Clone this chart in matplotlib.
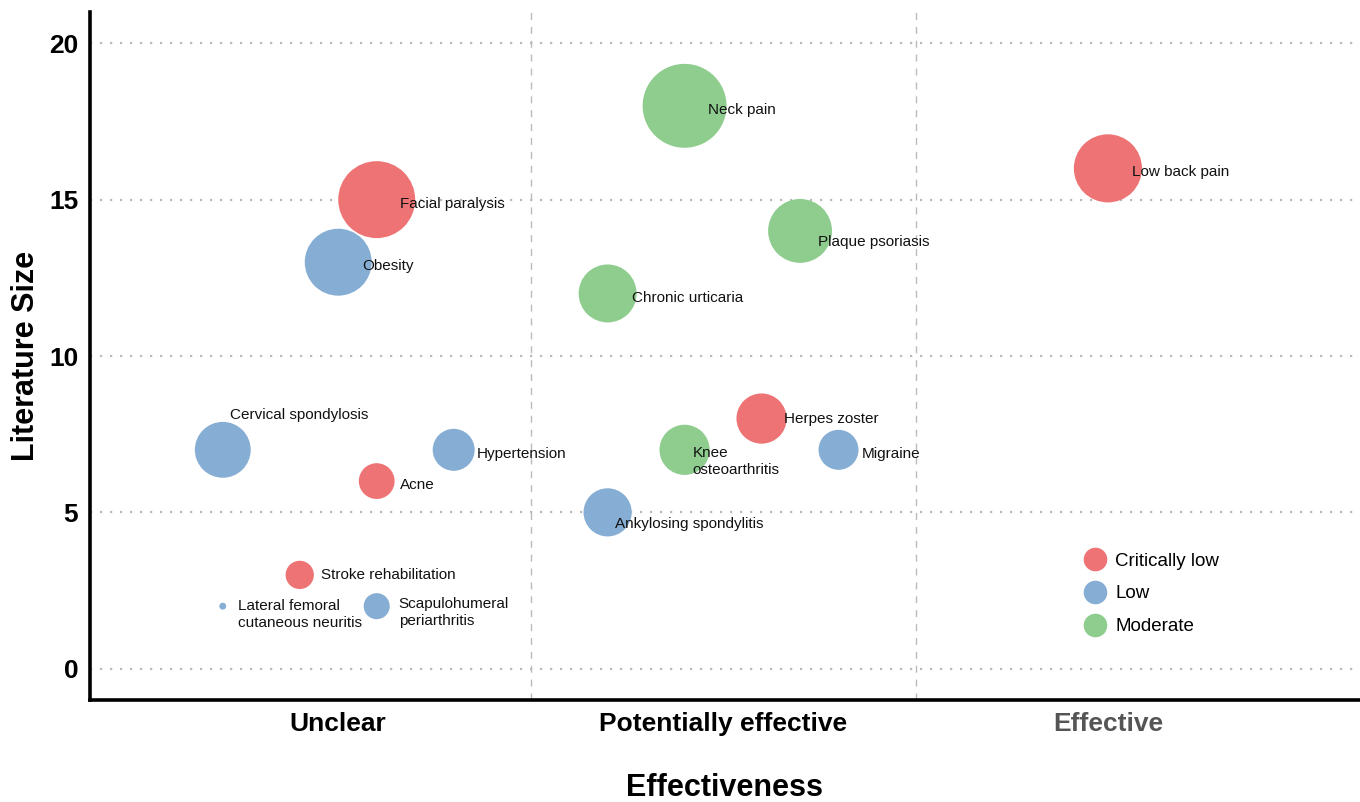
import matplotlib
matplotlib.use("Agg")
import matplotlib.pyplot as plt
from matplotlib.lines import Line2D

plt.rcParams['font.family'] = ['Liberation Sans', 'DejaVu Sans']

# x categories (positions 1, 2, 3)
categories = ["Unclear", "Potentially effective", "Effective"]

diseases = [
    "Facial paralysis", "Obesity", "Cervical spondylosis", "Hypertension",
    "Acne", "Stroke rehabilitation", "Lateral femoral\ncutaneous neuritis",
    "Scapulohumeral\nperiarthritis", "Neck pain", "Plaque psoriasis",
    "Chronic urticaria", "Herpes zoster", "Knee\nosteoarthritis", "Migraine",
    "Ankylosing spondylitis", "Low back pain",
]
effectiveness = [1.1, 1.0, 0.7, 1.3, 1.1, 0.9, 0.7, 1.1,
                 1.9, 2.2, 1.7, 2.1, 1.9, 2.3, 1.7, 3.0]
literature_size = [15, 13, 7, 7, 6, 3, 2, 2, 18, 14, 12, 8, 7, 7, 5, 16]
bubble_weight = [14.8, 11.2, 7.8, 4.4, 3.2, 2.0, 0.12, 1.7,
                 17.6, 10.2, 8.4, 6.3, 6.3, 4.0, 5.8, 11.6]
quality = ["Critically low", "Low", "Low", "Low", "Critically low",
           "Critically low", "Low", "Low", "Moderate", "Moderate", "Moderate",
           "Critically low", "Moderate", "Low", "Low", "Critically low"]

quality_levels = ["Critically low", "Low", "Moderate"]
quality_colors = {"Critically low": "#ee7374", "Low": "#86aed4", "Moderate": "#8fcd8f"}

# label offsets from bubble centre, in pixels
label_offsets = {
    "Facial paralysis": (23, -4),
    "Obesity": (24, -4),
    "Cervical spondylosis": (7, 35),
    "Hypertension": (23, -4),
    "Acne": (23, -4),
    "Stroke rehabilitation": (21, 0),
    "Lateral femoral\ncutaneous neuritis": (15, -8),
    "Scapulohumeral\nperiarthritis": (22, -6),
    "Neck pain": (23, -4),
    "Plaque psoriasis": (18, -11),
    "Chronic urticaria": (24, -5),
    "Herpes zoster": (22, 0),
    "Knee\nosteoarthritis": (8, -12),
    "Migraine": (23, -4),
    "Ankylosing spondylitis": (7, -12),
    "Low back pain": (24, -4),
}

fig = plt.figure(figsize=(13.6, 8.02), dpi=100)
ax = fig.add_axes([90 / 1360, 1 - 700 / 802, 1 - 90 / 1360, 688 / 802])

# grid
for yv in [0, 5, 10, 15, 20]:
    ax.axhline(yv, color="#bbbbbb", linestyle=(0, (1, 3.5)), linewidth=1.6, zorder=0)
for xv in [1.5, 2.5]:
    ax.axvline(xv, color="#bbbbbb", linestyle=(0, (5, 5)), linewidth=1.0, zorder=0)

size_scale = 207.36
colors = [quality_colors[q] for q in quality]
ax.scatter(effectiveness, literature_size, s=[w * size_scale for w in bubble_weight],
           c=colors, edgecolors="none", zorder=2)

for name, xv, yv in zip(diseases, effectiveness, literature_size):
    dx, dy = label_offsets[name]
    ax.annotate(name, (xv, yv), xytext=(dx, dy), textcoords="offset pixels",
                ha="left", va="center", fontsize=11, color="#111111",
                linespacing=1.3, zorder=3)

ax.set_xlim(0.355, 3.655)
ax.set_ylim(-1, 21)
ax.set_xticks([1, 2, 3])
ax.set_xticklabels(categories, fontsize=19, fontweight="bold")
ax.get_xticklabels()[2].set_color("#555555")
ax.set_yticks([0, 5, 10, 15, 20])
ax.set_yticklabels(["0", "5", "10", "15", "20"], fontsize=19, fontweight="bold")
ax.tick_params(length=0, pad=8.5)

ax.set_xlabel("Effectiveness", fontsize=22, fontweight="bold", labelpad=27)
ax.set_ylabel("Literature Size", fontsize=22, fontweight="bold", labelpad=6)

for side in ["top", "right"]:
    ax.spines[side].set_visible(False)
for side in ["left", "bottom"]:
    ax.spines[side].set_linewidth(2.6)
    ax.spines[side].set_color("black")

handles = [Line2D([], [], marker="o", linestyle="none", markersize=17,
                  markerfacecolor=quality_colors[q], markeredgecolor="none")
           for q in quality_levels]
ax.legend(handles, quality_levels, loc="upper left", bbox_to_anchor=(0.769, 0.239),
          frameon=False, fontsize=13.5, handlelength=1.2, handletextpad=0.5,
          labelspacing=0.84)

fig.savefig("out.png", dpi=100)
